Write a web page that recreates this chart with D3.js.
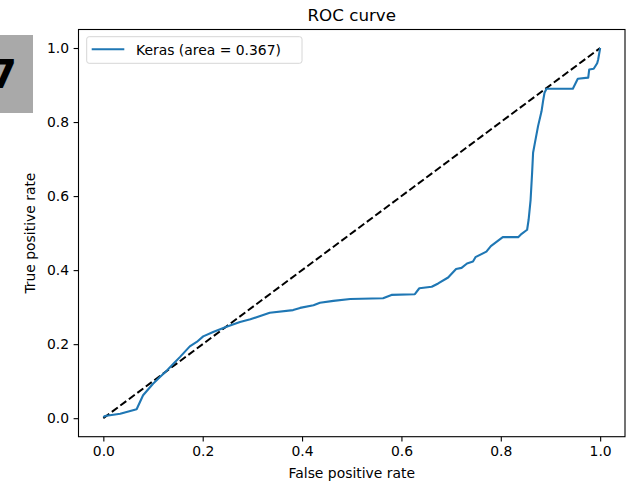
<!DOCTYPE html>
<html>
<head>
<meta charset="utf-8">
<script src="https://cdn.jsdelivr.net/npm/d3@7"></script>
<style>
body { margin: 0; background: #fff; }
text { font-family: 'DejaVu Sans', sans-serif; }
</style>
</head>
<body>
<script>
var WIDTH = 627, HEIGHT = 485;
var LEFT = 78.5, RIGHT = 625, TOP = 29.5, BOTTOM = 436.7;

var fpr = [0, 0.003, 0.034, 0.067, 0.08, 0.10, 0.114, 0.128, 0.141, 0.154, 0.174, 0.188, 0.201, 0.221,
    0.248, 0.275, 0.296, 0.335, 0.382, 0.396, 0.423, 0.436, 0.463, 0.497, 0.563, 0.58, 0.627, 0.636,
    0.661, 0.674, 0.694, 0.71, 0.721, 0.732, 0.744, 0.749, 0.771, 0.78, 0.804, 0.835, 0.842, 0.853,
    0.856, 0.86, 0.863, 0.865, 0.868, 0.875, 0.882, 0.885, 0.888, 0.892, 0.945, 0.955, 0.976, 0.978,
    0.987, 0.994, 0.996, 1.0];
var tpr = [0.003, 0.006, 0.012, 0.024, 0.062, 0.093, 0.111, 0.129, 0.147, 0.165, 0.194, 0.206, 0.221, 0.233,
    0.247, 0.26, 0.267, 0.285, 0.292, 0.298, 0.305, 0.312, 0.317, 0.322, 0.324, 0.333, 0.335, 0.351,
    0.355, 0.364, 0.38, 0.403, 0.406, 0.418, 0.423, 0.435, 0.45, 0.465, 0.489, 0.489, 0.498, 0.509,
    0.536, 0.59, 0.662, 0.717, 0.739, 0.789, 0.829, 0.856, 0.879, 0.89, 0.89, 0.917, 0.92, 0.942,
    0.944, 0.959, 0.969, 1.0];
var diagX = [0, 1];
var diagY = [0, 1];
var xTicks = [0, 0.2, 0.4, 0.6, 0.8, 1.0];
var yTicks = [0, 0.2, 0.4, 0.6, 0.8, 1.0];
var legendLabel = 'Keras (area = 0.367)';

var svg = d3.select('body').append('svg')
    .attr('width', WIDTH)
    .attr('height', HEIGHT);

// gray tab with the figure number at the far left
svg.append('rect')
    .attr('x', 0).attr('y', 35)
    .attr('width', 33).attr('height', 78)
    .style('fill', '#a9a9a9');
svg.append('text')
    .attr('x', 17).attr('y', 88)
    .attr('text-anchor', 'end')
    .style('font-size', '39px')
    .style('font-weight', 'bold')
    .style('fill', '#000')
    .text('7');

var x = d3.scaleLinear().domain([-0.05, 1.05]).range([LEFT, RIGHT]);
var y = d3.scaleLinear().domain([-0.05, 1.05]).range([BOTTOM, TOP]);

var line = d3.line()
    .x(function (d) { return x(d[0]); })
    .y(function (d) { return y(d[1]); });

svg.append('path')
    .datum(diagX.map(function (v, i) { return [v, diagY[i]]; }))
    .attr('d', line)
    .style('fill', 'none')
    .style('stroke', '#000')
    .style('stroke-width', 2)
    .style('stroke-dasharray', '7.4,3.2');

svg.append('path')
    .datum(fpr.map(function (v, i) { return [v, tpr[i]]; }))
    .attr('d', line)
    .style('fill', 'none')
    .style('stroke', '#1f77b4')
    .style('stroke-width', 2.1)
    .style('stroke-linejoin', 'round');

var xAxis = svg.append('g')
    .attr('transform', 'translate(0,' + BOTTOM + ')')
    .call(d3.axisBottom(x).tickValues(xTicks).tickFormat(d3.format('.1f')).tickSizeOuter(0).tickSize(4.9).tickPadding(4.5));
var yAxis = svg.append('g')
    .attr('transform', 'translate(' + LEFT + ',0)')
    .call(d3.axisLeft(y).tickValues(yTicks).tickFormat(d3.format('.1f')).tickSizeOuter(0).tickSize(4.9).tickPadding(4.5));
svg.selectAll('.domain').remove();
svg.selectAll('.tick line').style('stroke', '#000').style('stroke-width', 1.1);
svg.selectAll('.tick text')
    .style('font-family', 'DejaVu Sans')
    .style('font-size', '13.9px')
    .style('fill', '#000');

// frame
svg.append('rect')
    .attr('x', LEFT).attr('y', TOP)
    .attr('width', RIGHT - LEFT).attr('height', BOTTOM - TOP)
    .style('fill', 'none')
    .style('stroke', '#000')
    .style('stroke-width', 1.1);

svg.append('text')
    .attr('x', (LEFT + RIGHT) / 2).attr('y', 21)
    .attr('text-anchor', 'middle')
    .style('font-size', '16.7px')
    .text('ROC curve');
svg.append('text')
    .attr('x', (LEFT + RIGHT) / 2).attr('y', 478)
    .attr('text-anchor', 'middle')
    .style('font-size', '13.9px')
    .text('False positive rate');
svg.append('text')
    .attr('transform', 'translate(35,' + ((TOP + BOTTOM) / 2) + ') rotate(-90)')
    .attr('text-anchor', 'middle')
    .style('font-size', '13.9px')
    .text('True positive rate');

// legend
var lg = svg.append('g');
lg.append('rect')
    .attr('x', 86.7).attr('y', 36.7)
    .attr('width', 215.3).attr('height', 26.6)
    .attr('rx', 2.5)
    .style('fill', '#fff')
    .style('fill-opacity', 0.8)
    .style('stroke', '#d6d6d6')
    .style('stroke-width', 1);
lg.append('line')
    .attr('x1', 91.7).attr('x2', 124.3)
    .attr('y1', 49.3).attr('y2', 49.3)
    .style('stroke', '#1f77b4')
    .style('stroke-width', 2.1);
lg.append('text')
    .attr('x', 136).attr('y', 54.5)
    .style('font-size', '13.9px')
    .text(legendLabel);
</script>
</body>
</html>
